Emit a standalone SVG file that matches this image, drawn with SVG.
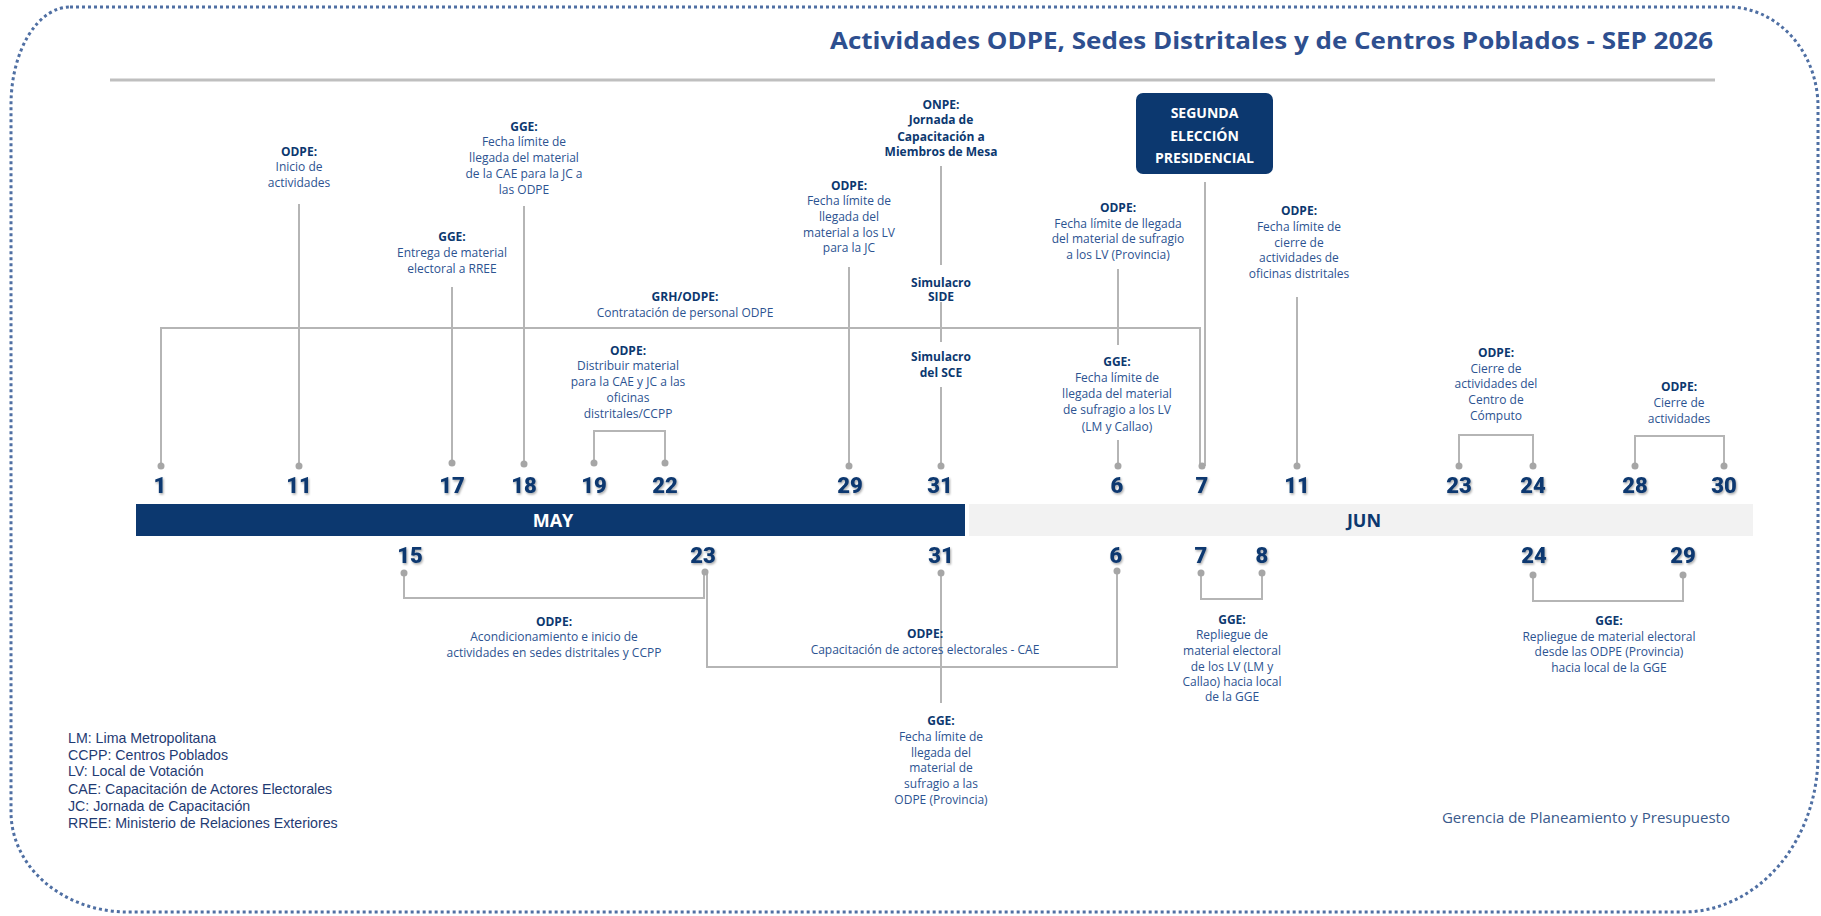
<svg xmlns="http://www.w3.org/2000/svg" width="1821" height="916" viewBox="0 0 1821 916">
<defs>
<style>
.h{font-family:"Open Sans","Liberation Sans",sans-serif;font-size:12px;font-weight:700;fill:#0c386f;text-anchor:middle}
.b{font-family:"Open Sans","Liberation Sans",sans-serif;font-size:12px;fill:#2c5391;text-anchor:middle}
.num{font-family:Roboto,"Liberation Sans",sans-serif;font-size:22px;font-weight:900;fill:#0c386f;text-anchor:middle;filter:url(#sh)}
.ln{fill:none;stroke:#b5b5b5;stroke-width:2}
.dot{fill:#a6a6a6}
.leg{font-family:"Liberation Sans",Arial,sans-serif;font-size:14.2px;fill:#1f3b73}
</style>
<filter id="sh" x="-20%" y="-20%" width="150%" height="150%">
<feDropShadow dx="1" dy="1.5" stdDeviation="0.8" flood-color="#000" flood-opacity="0.35"/>
</filter>
</defs>
<rect width="1821" height="916" fill="#fff"/>
<path id="frame" d="M70 7 H1728 A90 100 0 0 1 1818 107 V755 A135 157 0 0 1 1683 912 H128 A117 100 0 0 1 11 812 V105 A59 98 0 0 1 70 7 Z" fill="none" stroke="#4f6fa3" stroke-width="3" stroke-dasharray="3 3"/>
<text x="1713" y="49" font-family="'Open Sans','Liberation Sans',sans-serif" font-size="24" font-weight="700" fill="#2e4f8f" text-anchor="end" textLength="883" lengthAdjust="spacingAndGlyphs">Actividades ODPE, Sedes Distritales y de Centros Poblados - SEP 2026</text>
<line x1="110" y1="80" x2="1715" y2="80" stroke="#bfbfbf" stroke-width="3"/>
<g id="months">
<rect x="136" y="504" width="829" height="32" fill="#0c386f"/>
<rect x="969" y="504" width="784" height="32" fill="#f2f2f2"/>
<text x="553" y="527" font-family="'Open Sans','Liberation Sans',sans-serif" font-size="18" font-weight="700" fill="#fff" text-anchor="middle">MAY</text>
<text x="1364" y="527" font-family="'Open Sans','Liberation Sans',sans-serif" font-size="18" font-weight="700" fill="#0c386f" text-anchor="middle">JUN</text>
</g>
<g id="connectors">
<path class="ln" d="M161 466 V328 H1200 V466"/>
<path class="ln" d="M299 204 V466"/>
<path class="ln" d="M452 287 V463"/>
<path class="ln" d="M524 206 V464"/>
<path class="ln" d="M594 463 V431 H665 V463"/>
<path class="ln" d="M849 267 V466"/>
<path class="ln" d="M941 166 V265 M941 302 V342 M941 387 V466"/>
<path class="ln" d="M1205 182 V466"/>
<path class="ln" d="M1118 269 V345 M1118 440 V466"/>
<path class="ln" d="M1297 297 V466"/>
<path class="ln" d="M1459 466 V435 H1533 V466"/>
<path class="ln" d="M1635 466 V436 H1724 V466"/>
<path class="ln" d="M404 573 V598 H704 V573"/>
<path class="ln" d="M707 573 V667 H1117 V572"/>
<path class="ln" d="M941 573 V703"/>
<path class="ln" d="M1201 573 V599 H1262 V573"/>
<path class="ln" d="M1533 575 V601 H1683 V575"/>
</g>
<g id="dots">
<circle class="dot" cx="161" cy="466" r="3.5"/>
<circle class="dot" cx="299" cy="466" r="3.5"/>
<circle class="dot" cx="452" cy="463" r="3.5"/>
<circle class="dot" cx="524" cy="464" r="3.5"/>
<circle class="dot" cx="594" cy="463" r="3.5"/>
<circle class="dot" cx="665" cy="463" r="3.5"/>
<circle class="dot" cx="849" cy="466" r="3.5"/>
<circle class="dot" cx="941" cy="466" r="3.5"/>
<circle class="dot" cx="1118" cy="466" r="3.5"/>
<circle class="dot" cx="1202" cy="466" r="3.5"/>
<circle class="dot" cx="1297" cy="466" r="3.5"/>
<circle class="dot" cx="1459" cy="466" r="3.5"/>
<circle class="dot" cx="1533" cy="466" r="3.5"/>
<circle class="dot" cx="1635" cy="466" r="3.5"/>
<circle class="dot" cx="1724" cy="466" r="3.5"/>
<circle class="dot" cx="404" cy="573" r="3.5"/>
<circle class="dot" cx="705" cy="572" r="3.5"/>
<circle class="dot" cx="941" cy="573" r="3.5"/>
<circle class="dot" cx="1117" cy="571" r="3.5"/>
<circle class="dot" cx="1201" cy="573" r="3.5"/>
<circle class="dot" cx="1262" cy="573" r="3.5"/>
<circle class="dot" cx="1533" cy="575" r="3.5"/>
<circle class="dot" cx="1683" cy="575" r="3.5"/>
</g>
<g id="days-top">
<text class="num" x="160" y="493">1</text>
<text class="num" x="299" y="493">11</text>
<text class="num" x="452" y="493">17</text>
<text class="num" x="524" y="493">18</text>
<text class="num" x="594" y="493">19</text>
<text class="num" x="665" y="493">22</text>
<text class="num" x="850" y="493">29</text>
<text class="num" x="940" y="493">31</text>
<text class="num" x="1117" y="493">6</text>
<text class="num" x="1202" y="493">7</text>
<text class="num" x="1297" y="493">11</text>
<text class="num" x="1459" y="493">23</text>
<text class="num" x="1533" y="493">24</text>
<text class="num" x="1635" y="493">28</text>
<text class="num" x="1724" y="493">30</text>
</g>
<g id="days-bottom">
<text class="num" x="410" y="563">15</text>
<text class="num" x="703" y="563">23</text>
<text class="num" x="941" y="563">31</text>
<text class="num" x="1116" y="563">6</text>
<text class="num" x="1201" y="563">7</text>
<text class="num" x="1262" y="563">8</text>
<text class="num" x="1534" y="563">24</text>
<text class="num" x="1683" y="563">29</text>
</g>
<g id="n-may11"><text class="h" x="299" y="156">ODPE:</text><text class="b" x="299" y="171">Inicio de</text><text class="b" x="299" y="187">actividades</text></g>
<g id="n-may18"><text class="h" x="524" y="131">GGE:</text><text class="b" x="524" y="146">Fecha límite de</text><text class="b" x="524" y="162">llegada del material</text><text class="b" x="524" y="178">de la CAE para la JC a</text><text class="b" x="524" y="194">las ODPE</text></g>
<g id="n-may17"><text class="h" x="452" y="241">GGE:</text><text class="b" x="452" y="257">Entrega de material</text><text class="b" x="452" y="273">electoral a RREE</text></g>
<g id="n-grh"><text class="h" x="685" y="301">GRH/ODPE:</text><text class="b" x="685" y="317">Contratación de personal ODPE</text></g>
<g id="n-may19"><text class="h" x="628" y="355">ODPE:</text><text class="b" x="628" y="370">Distribuir material</text><text class="b" x="628" y="386">para la CAE y JC a las</text><text class="b" x="628" y="402">oficinas</text><text class="b" x="628" y="418">distritales/CCPP</text></g>
<g id="n-may29"><text class="h" x="849" y="190">ODPE:</text><text class="b" x="849" y="205">Fecha límite de</text><text class="b" x="849" y="221">llegada del</text><text class="b" x="849" y="237">material a los LV</text><text class="b" x="849" y="252">para la JC</text></g>
<g id="n-onpe"><text class="h" x="941" y="109">ONPE:</text><text class="h" x="941" y="124">Jornada de</text><text class="h" x="941" y="141">Capacitación a</text><text class="h" x="941" y="156">Miembros de Mesa</text></g>
<g id="n-side"><text class="h" x="941" y="287">Simulacro</text><text class="h" x="941" y="301">SIDE</text></g>
<g id="n-sce"><text class="h" x="941" y="361">Simulacro</text><text class="h" x="941" y="377">del SCE</text></g>
<g id="n-segunda">
<rect x="1136" y="93" width="137" height="81" rx="7" fill="#0c386f"/>
<text x="1204.5" y="118" font-family="'Open Sans','Liberation Sans',sans-serif" font-size="14" font-weight="700" fill="#fff" text-anchor="middle">SEGUNDA</text>
<text x="1204.5" y="141" font-family="'Open Sans','Liberation Sans',sans-serif" font-size="14" font-weight="700" fill="#fff" text-anchor="middle">ELECCIÓN</text>
<text x="1204.5" y="163" font-family="'Open Sans','Liberation Sans',sans-serif" font-size="14" font-weight="700" fill="#fff" text-anchor="middle">PRESIDENCIAL</text>
</g>
<g id="n-jun6a"><text class="h" x="1118" y="212">ODPE:</text><text class="b" x="1118" y="228">Fecha límite de llegada</text><text class="b" x="1118" y="243">del material de sufragio</text><text class="b" x="1118" y="259">a los LV (Provincia)</text></g>
<g id="n-jun6b"><text class="h" x="1117" y="366">GGE:</text><text class="b" x="1117" y="382">Fecha límite de</text><text class="b" x="1117" y="398">llegada del material</text><text class="b" x="1117" y="414">de sufragio a los LV</text><text class="b" x="1117" y="431">(LM y Callao)</text></g>
<g id="n-jun11"><text class="h" x="1299" y="215">ODPE:</text><text class="b" x="1299" y="231">Fecha límite de</text><text class="b" x="1299" y="247">cierre de</text><text class="b" x="1299" y="262">actividades de</text><text class="b" x="1299" y="278">oficinas distritales</text></g>
<g id="n-jun23"><text class="h" x="1496" y="357">ODPE:</text><text class="b" x="1496" y="373">Cierre de</text><text class="b" x="1496" y="388">actividades del</text><text class="b" x="1496" y="404">Centro de</text><text class="b" x="1496" y="420">Cómputo</text></g>
<g id="n-jun28"><text class="h" x="1679" y="391">ODPE:</text><text class="b" x="1679" y="407">Cierre de</text><text class="b" x="1679" y="423">actividades</text></g>
<g id="n-may15"><text class="h" x="554" y="626">ODPE:</text><text class="b" x="554" y="641">Acondicionamiento e inicio de</text><text class="b" x="554" y="657">actividades en sedes distritales y CCPP</text></g>
<g id="n-cae"><text class="h" x="925" y="638">ODPE:</text><text class="b" x="925" y="654">Capacitación de actores electorales - CAE</text></g>
<g id="n-may31"><text class="h" x="941" y="725">GGE:</text><text class="b" x="941" y="741">Fecha límite de</text><text class="b" x="941" y="757">llegada del</text><text class="b" x="941" y="772">material de</text><text class="b" x="941" y="788">sufragio a las</text><text class="b" x="941" y="804">ODPE (Provincia)</text></g>
<g id="n-jun7"><text class="h" x="1232" y="624">GGE:</text><text class="b" x="1232" y="639">Repliegue de</text><text class="b" x="1232" y="655">material electoral</text><text class="b" x="1232" y="671">de los LV (LM y</text><text class="b" x="1232" y="686">Callao) hacia local</text><text class="b" x="1232" y="701">de la GGE</text></g>
<g id="n-jun24"><text class="h" x="1609" y="625">GGE:</text><text class="b" x="1609" y="641">Repliegue de material electoral</text><text class="b" x="1609" y="656">desde las ODPE (Provincia)</text><text class="b" x="1609" y="672">hacia local de la GGE</text></g>
<g id="legend">
<text class="leg" x="68" y="743">LM: Lima Metropolitana</text>
<text class="leg" x="68" y="760">CCPP: Centros Poblados</text>
<text class="leg" x="68" y="776">LV: Local de Votación</text>
<text class="leg" x="68" y="794">CAE: Capacitación de Actores Electorales</text>
<text class="leg" x="68" y="811">JC: Jornada de Capacitación</text>
<text class="leg" x="68" y="828">RREE: Ministerio de Relaciones Exteriores</text>
</g>
<text x="1730" y="823" font-family="'Open Sans','Liberation Sans',sans-serif" font-size="15" fill="#3a5a8c" text-anchor="end">Gerencia de Planeamiento y Presupuesto</text>
</svg>
